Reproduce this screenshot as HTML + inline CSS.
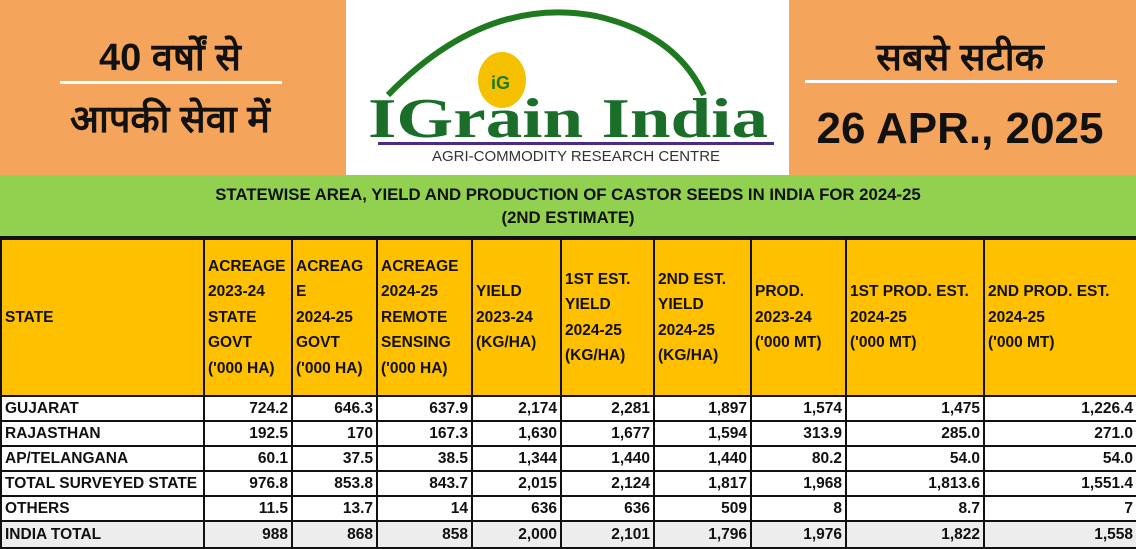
<!DOCTYPE html>
<html><head><meta charset="utf-8"><style>
*{margin:0;padding:0;box-sizing:border-box}
body{width:1136px;height:549px;overflow:hidden;background:#fff;font-family:"Liberation Sans",sans-serif;position:relative}
.top{position:absolute;top:0;height:175px;background:#F5A55B}
.hi{font-family:"Liberation Sans","Noto Sans CJK SC",sans-serif;color:#111;position:absolute;text-align:center;font-weight:bold}
.ttl{position:absolute;left:0;top:175px;width:1136px;height:63px;background:#92D050;border-bottom:2px solid #111;text-align:center;font-weight:bold;font-size:16.8px;line-height:23px;padding-top:8px;color:#111}
table{position:absolute;left:0;top:238px;border-collapse:collapse;table-layout:fixed;width:1136px;font-weight:bold;font-size:15.5px;color:#111;white-space:nowrap}
td{border:2px solid #111;padding:0 3px;overflow:hidden}
tr.h td{background:#FFC000;height:157px;line-height:25.5px;vertical-align:middle;text-align:left}
tr.d td{height:25px;text-align:right;line-height:20px}
tr.d td:first-child{text-align:left}
tr.g td{background:#EDEDED;height:27px}
</style></head><body>
<div class="top" style="left:0;width:346px"></div>
<div class="top" style="left:789px;width:347px"></div>
<div class="hi" style="left:40px;top:30px;width:260px;font-size:38px">40 वर्षों से</div>
<div style="position:absolute;left:60px;top:81px;width:222px;height:3px;background:#fff"></div>
<div class="hi" style="left:30px;top:92px;width:280px;font-size:38px">आपकी सेवा में</div>
<div class="hi" style="left:820px;top:30px;width:280px;font-size:38px">सबसे सटीक</div>
<div style="position:absolute;left:805px;top:80px;width:312px;height:3px;background:#fff"></div>
<div class="hi" style="left:795px;top:104px;width:330px;font-size:44px">26 APR., 2025</div>
<svg style="position:absolute;left:346px;top:0" width="443" height="175">
<path d="M42 95 Q140 -5 250 16 Q330 34 358 95" fill="none" stroke="#1F7A1F" stroke-width="6"/>
<ellipse cx="156" cy="80" rx="24" ry="28" fill="#F5C000"/>
<text x="145" y="89" font-family="Liberation Sans" font-weight="bold" font-size="18" fill="#1F7A1F">iG</text>
<text x="22" y="137" font-family="Liberation Serif" font-weight="bold" font-size="56" fill="#1A6E2A" textLength="400" lengthAdjust="spacingAndGlyphs">IGrain India</text>
<rect x="32" y="142" width="396" height="3" fill="#4B2A8A"/>
<text x="230" y="161" text-anchor="middle" font-family="Liberation Sans" font-size="15" fill="#333">AGRI-COMMODITY RESEARCH CENTRE</text>
</svg>
<div class="ttl">STATEWISE AREA, YIELD AND PRODUCTION OF CASTOR SEEDS IN INDIA FOR 2024-25<br>(2ND ESTIMATE)</div>
<table>
<colgroup><col style="width:203px"><col style="width:88px"><col style="width:85px"><col style="width:95px"><col style="width:89px"><col style="width:93px"><col style="width:97px"><col style="width:95px"><col style="width:138px"><col style="width:153px"></colgroup>
<tr class="h"><td>STATE</td><td>ACREAGE<br>2023-24<br>STATE<br>GOVT<br>('000 HA)</td><td>ACREAG<br>E<br>2024-25<br>GOVT<br>('000 HA)</td><td>ACREAGE<br>2024-25<br>REMOTE<br>SENSING<br>('000 HA)</td><td>YIELD<br>2023-24<br>(KG/HA)</td><td>1ST EST.<br>YIELD<br>2024-25<br>(KG/HA)</td><td>2ND EST.<br>YIELD<br>2024-25<br>(KG/HA)</td><td>PROD.<br>2023-24<br>('000 MT)</td><td>1ST PROD. EST.<br>2024-25<br>('000 MT)</td><td>2ND PROD. EST.<br>2024-25<br>('000 MT)</td></tr>
<tr class="d"><td>GUJARAT</td><td>724.2</td><td>646.3</td><td>637.9</td><td>2,174</td><td>2,281</td><td>1,897</td><td>1,574</td><td>1,475</td><td>1,226.4</td></tr>
<tr class="d"><td>RAJASTHAN</td><td>192.5</td><td>170</td><td>167.3</td><td>1,630</td><td>1,677</td><td>1,594</td><td>313.9</td><td>285.0</td><td>271.0</td></tr>
<tr class="d"><td>AP/TELANGANA</td><td>60.1</td><td>37.5</td><td>38.5</td><td>1,344</td><td>1,440</td><td>1,440</td><td>80.2</td><td>54.0</td><td>54.0</td></tr>
<tr class="d"><td>TOTAL SURVEYED STATE</td><td>976.8</td><td>853.8</td><td>843.7</td><td>2,015</td><td>2,124</td><td>1,817</td><td>1,968</td><td>1,813.6</td><td>1,551.4</td></tr>
<tr class="d"><td>OTHERS</td><td>11.5</td><td>13.7</td><td>14</td><td>636</td><td>636</td><td>509</td><td>8</td><td>8.7</td><td>7</td></tr>
<tr class="d g"><td>INDIA TOTAL</td><td>988</td><td>868</td><td>858</td><td>2,000</td><td>2,101</td><td>1,796</td><td>1,976</td><td>1,822</td><td>1,558</td></tr>
</table>
</body></html>
